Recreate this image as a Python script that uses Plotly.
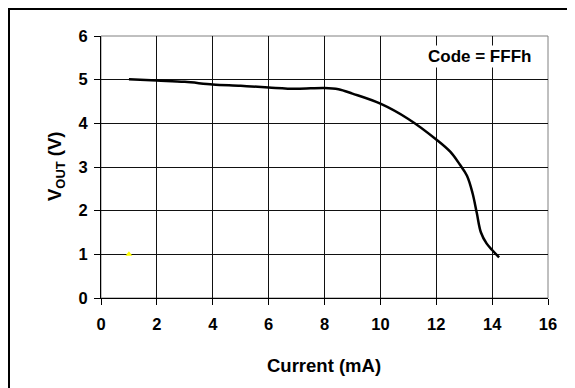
import plotly.graph_objects as go

current_ma = [1.0, 2.0, 3.0, 4.0, 5.0, 6.0, 7.0, 8.0, 8.5, 9.0, 10.0, 11.0, 12.0, 12.5, 12.85, 13.1, 13.3, 13.45, 13.6, 13.8, 14.0, 14.25]
vout_v = [5.01, 4.98, 4.95, 4.89, 4.86, 4.82, 4.79, 4.81, 4.78, 4.68, 4.45, 4.1, 3.63, 3.35, 3.05, 2.8, 2.4, 1.95, 1.5, 1.25, 1.1, 0.93]
marker_x = [1.0]
marker_y = [1.0]
x_ticks = [0, 2, 4, 6, 8, 10, 12, 14, 16]
y_ticks = [0, 1, 2, 3, 4, 5, 6]

FONT = "Liberation Sans, Arial, sans-serif"

# Page offset of the plot inside the browser window (body margin)
OFF = 8
# Plot area in window pixels
PX0, PX1, PY0, PY1 = 101, 548, 36, 298
W, H = 575, 388


def px(xw):
    return (xw - PX0) / (PX1 - PX0)


def py(yw):
    return (PY1 - yw) / (PY1 - PY0)


fig = go.Figure()
fig.add_trace(go.Scatter(x=current_ma, y=vout_v, mode="lines",
                         line=dict(color="black", width=2.5, shape="spline", smoothing=1.0),
                         showlegend=False, hoverinfo="skip"))
fig.add_trace(go.Scatter(x=marker_x, y=marker_y, mode="markers",
                         marker=dict(symbol="triangle-up", size=6, color="#ffff00"),
                         showlegend=False, hoverinfo="skip"))

fig.update_layout(
    width=W, height=H,
    margin=dict(l=PX0 - OFF, r=W - (PX1 - OFF), t=PY0 - OFF, b=H - (PY1 - OFF), pad=0),
    paper_bgcolor="white", plot_bgcolor="white",
    font=dict(family=FONT, color="black", size=16),
    xaxis=dict(range=[0, 16], tickvals=x_ticks,
               ticktext=[f"<b>{v}</b>" for v in x_ticks],
               ticks="outside", ticklen=6, tickcolor="black",
               showline=True, linecolor="black", linewidth=1,
               showgrid=True, gridcolor="#111111", gridwidth=1, zeroline=False,
               tickfont=dict(family=FONT, size=16.5, color="black"),
               ticklabelstandoff=5, fixedrange=True),
    yaxis=dict(range=[0, 6], tickvals=y_ticks,
               ticktext=[f"<b>{v}</b>" for v in y_ticks],
               ticks="outside", ticklen=6, tickcolor="black",
               showline=True, linecolor="black", linewidth=1,
               showgrid=True, gridcolor="#111111", gridwidth=1, zeroline=False,
               tickfont=dict(family=FONT, size=16.5, color="black"),
               ticklabelstandoff=3, fixedrange=True),
    shapes=[
        dict(type="rect", xref="paper", yref="paper", x0=0, x1=1, y0=0, y1=1,
             line=dict(color="#808080", width=1), layer="below"),
        dict(type="rect", xref="paper", yref="paper",
             x0=px(OFF + 0.5), x1=px(W + OFF + 40),
             y0=py(H + OFF + 40), y1=py(OFF + 0.5),
             line=dict(color="black", width=3)),
    ],
    annotations=[
        dict(text="<b>Code = FFFh</b>", xref="paper", yref="paper",
             x=px(479), y=py(56), xanchor="center", yanchor="middle", showarrow=False,
             bgcolor="white", borderpad=1,
             font=dict(family=FONT, size=17, color="black")),
        dict(text="<b>Current (mA)</b>", xref="paper", yref="paper",
             x=px(324), y=py(365), xanchor="center", yanchor="middle", showarrow=False,
             font=dict(family=FONT, size=18.5, color="black")),
        dict(text="<b>V<sub>OUT</sub> (V)</b>", xref="paper", yref="paper",
             x=px(56), y=py(167), xanchor="center", yanchor="middle", showarrow=False,
             textangle=-90,
             font=dict(family=FONT, size=18.5, color="black")),
    ],
)

fig.write_html("out.html")
